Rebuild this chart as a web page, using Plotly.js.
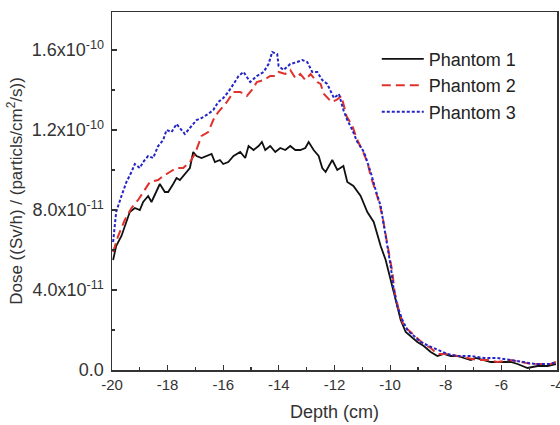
<!DOCTYPE html>
<html>
<head>
<meta charset="utf-8">
<script src="https://cdn.plot.ly/plotly-3.0.1.min.js"></script>
<style>html,body{margin:0;padding:0;background:#fff;}#chart{width:560px;height:425px;}</style>
</head>
<body>
<div id="chart"></div>
<script>
// Depth (cm) and dose values in units of 1e-10 (Sv/h)/(particles/cm^2/s)
var depth1 = [-19.96,-19.85,-19.66,-19.54,-19.36,-19.18,-19.00,-18.88,-18.70,-18.58,-18.40,-18.28,-18.10,-17.98,-17.80,-17.68,-17.56,-17.38,-17.20,-17.08,-16.96,-16.78,-16.60,-16.42,-16.30,-16.12,-16.00,-15.82,-15.63,-15.39,-15.21,-15.09,-14.91,-14.73,-14.61,-14.49,-14.31,-14.13,-13.95,-13.77,-13.59,-13.41,-13.23,-13.05,-12.93,-12.75,-12.57,-12.44,-12.32,-12.08,-11.90,-11.68,-11.54,-11.32,-11.06,-10.82,-10.59,-10.34,-10.16,-9.98,-9.80,-9.62,-9.44,-9.26,-9.02,-8.79,-8.54,-8.30,-8.07,-7.82,-7.58,-7.35,-7.10,-6.92,-6.63,-6.38,-6.14,-5.91,-5.66,-5.42,-5.06,-4.70,-4.34,-4.04];
var dose1 = [0.55,0.62,0.67,0.72,0.79,0.81,0.80,0.84,0.87,0.84,0.89,0.93,0.89,0.89,0.93,0.96,0.95,0.98,1.01,1.09,1.07,1.06,1.07,1.08,1.04,1.05,1.03,1.04,1.07,1.09,1.06,1.12,1.10,1.12,1.14,1.10,1.12,1.09,1.11,1.10,1.12,1.10,1.10,1.11,1.14,1.10,1.07,1.01,0.99,1.05,1.00,1.02,0.94,0.92,0.87,0.79,0.74,0.62,0.55,0.45,0.35,0.25,0.19,0.17,0.14,0.12,0.09,0.07,0.08,0.07,0.07,0.06,0.05,0.06,0.05,0.04,0.04,0.04,0.04,0.03,0.01,0.02,0.02,0.03];

var depth2 = [-19.96,-19.78,-19.54,-19.30,-19.06,-18.82,-18.64,-18.34,-18.16,-17.92,-17.68,-17.44,-17.20,-17.02,-16.78,-16.54,-16.36,-16.18,-15.87,-15.63,-15.39,-15.15,-14.97,-14.79,-14.55,-14.31,-14.13,-14.01,-13.77,-13.59,-13.41,-13.23,-13.05,-12.86,-12.62,-12.50,-12.38,-12.11,-11.93,-11.75,-11.57,-11.36,-11.18,-11.00,-10.82,-10.70,-10.52,-10.40,-10.28,-10.16,-10.04,-9.92,-9.84,-9.69,-9.51,-9.26,-9.02,-8.79,-8.54,-8.30,-7.94,-7.58,-7.22,-6.86,-6.50,-6.14,-5.66,-5.30,-4.94,-4.58,-4.22,-4.04];
var dose2 = [0.59,0.67,0.75,0.81,0.85,0.90,0.94,0.95,0.97,0.99,1.01,1.01,1.04,1.08,1.17,1.19,1.25,1.29,1.34,1.39,1.39,1.37,1.40,1.44,1.45,1.47,1.47,1.49,1.48,1.50,1.46,1.48,1.45,1.48,1.44,1.43,1.38,1.34,1.35,1.37,1.27,1.22,1.15,1.10,1.04,0.97,0.89,0.84,0.77,0.67,0.59,0.49,0.39,0.30,0.22,0.19,0.16,0.13,0.11,0.08,0.08,0.07,0.06,0.05,0.05,0.04,0.05,0.04,0.03,0.03,0.03,0.04];

var depth3 = [-19.96,-19.85,-19.66,-19.48,-19.30,-19.18,-19.00,-18.88,-18.70,-18.52,-18.34,-18.16,-18.04,-17.86,-17.68,-17.56,-17.38,-17.20,-16.96,-16.78,-16.54,-16.36,-16.18,-16.00,-15.82,-15.63,-15.45,-15.27,-15.03,-14.79,-14.55,-14.37,-14.24,-14.06,-14.01,-13.83,-13.59,-13.34,-13.16,-12.98,-12.80,-12.62,-12.44,-12.26,-12.02,-11.84,-11.68,-11.54,-11.36,-11.18,-10.94,-10.82,-10.70,-10.52,-10.34,-10.22,-10.10,-9.98,-9.88,-9.74,-9.56,-9.38,-9.14,-8.90,-8.60,-8.30,-7.94,-7.58,-7.10,-6.63,-6.14,-5.66,-5.28,-4.79,-4.22,-4.04];
var dose3 = [0.64,0.79,0.87,0.94,0.99,1.03,1.01,1.04,1.07,1.06,1.12,1.15,1.20,1.19,1.23,1.21,1.18,1.21,1.25,1.26,1.28,1.30,1.34,1.36,1.39,1.43,1.47,1.49,1.44,1.47,1.49,1.53,1.59,1.58,1.52,1.50,1.53,1.54,1.55,1.54,1.49,1.49,1.45,1.43,1.36,1.38,1.30,1.25,1.20,1.14,1.09,1.04,0.99,0.90,0.82,0.72,0.62,0.52,0.41,0.32,0.25,0.20,0.17,0.14,0.12,0.10,0.08,0.07,0.07,0.06,0.06,0.05,0.04,0.03,0.03,0.04];

var seriesNames = ["Phantom 1","Phantom 2","Phantom 3"];
var yTickVals = [0, 0.4, 0.8, 1.2, 1.6];
var yTickText = ["0.0","4.0x10<sup>-11</sup>","8.0x10<sup>-11</sup>","1.2x10<sup>-10</sup>","1.6x10<sup>-10</sup>"];
var xTickVals = [-20,-18,-16,-14,-12,-10,-8,-6,-4];

var SCALE = 1e-10;
function sc(a){ return a.map(function(v){ return v*SCALE; }); }

var FONT = 'Liberation Sans, Arial, sans-serif';
var traces = [
  {x: depth1, y: sc(dose1), name: seriesNames[0], mode: 'lines', line: {color: '#111111', width: 1.8}},
  {x: depth2, y: sc(dose2), name: seriesNames[1], mode: 'lines', line: {color: '#e0322c', width: 2, dash: '9px,5px'}},
  {x: depth3, y: sc(dose3), name: seriesNames[2], mode: 'lines', line: {color: '#2424c8', width: 2, dash: '3px,2px'}}
];
traces.forEach(function(t, i){ t.legendgroup = 'g' + i; });

var layout = {
  width: 560, height: 425,
  margin: {l: 112, r: 3, t: 12, b: 55},
  paper_bgcolor: '#fff', plot_bgcolor: '#fff',
  showlegend: true,
  legend: {x: 0.595, y: 0.92, xanchor: 'left', yanchor: 'top', bgcolor: 'rgba(0,0,0,0)',
           font: {family: FONT, size: 18, color: '#222'}, itemwidth: 42,
           traceorder: 'normal', tracegroupgap: 2},
  xaxis: {
    range: [-20, -4], tickmode: 'array', tickvals: xTickVals,
    ticktext: xTickVals.map(String),
    ticks: 'inside', ticklen: 5, tickwidth: 1.2, tickcolor: '#333',
    minor: {tickmode: 'linear', tick0: -19, dtick: 2, ticks: 'inside', ticklen: 3, tickcolor: '#333'},
    showline: true, linecolor: '#333', linewidth: 1.5, mirror: true,
    showgrid: false, zeroline: false, ticklabeloverflow: 'allow',
    tickfont: {family: FONT, size: 15, color: '#333'},
    title: {text: 'Depth (cm)', font: {family: FONT, size: 18, color: '#333'}, standoff: 14}
  },
  yaxis: {
    range: [0, 1.79e-10], tickmode: 'array', tickvals: sc(yTickVals), ticktext: yTickText,
    ticks: 'inside', ticklen: 5, tickwidth: 1.2, tickcolor: '#333',
    minor: {tickmode: 'linear', tick0: 0.2e-10, dtick: 0.4e-10, ticks: 'inside', ticklen: 3, tickcolor: '#333'},
    showline: true, linecolor: '#333', linewidth: 1.5, mirror: true,
    showgrid: false, zeroline: false,
    tickfont: {family: FONT, size: 18, color: '#333'},
    ticklabelstandoff: 3,
    title: {text: 'Dose ((Sv/h) / (particls/cm<sup>2</sup>/s))', font: {family: FONT, size: 17, color: '#333'}, standoff: 4}
  }
};

Plotly.newPlot('chart', traces, layout, {displayModeBar: false, staticPlot: true});
</script>
</body>
</html>
